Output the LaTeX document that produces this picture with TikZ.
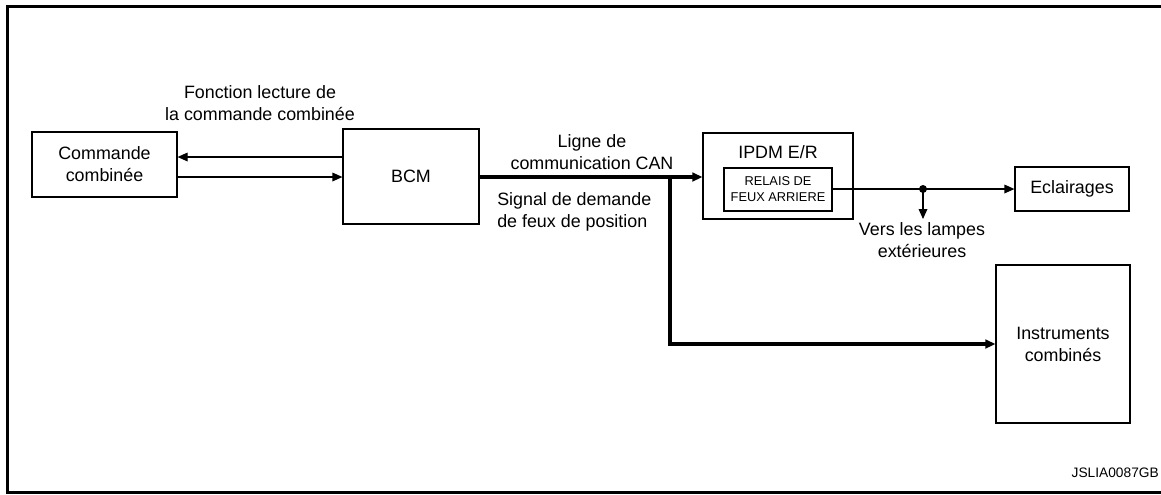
\documentclass[tikz,border=0pt]{standalone}
\usepackage{fontspec}
\setmainfont{Liberation Sans}
\usetikzlibrary{arrows.meta}
\begin{document}
\begin{tikzpicture}[x=0.75pt,y=-0.75pt,
  box/.style={draw,line width=0.9pt,inner sep=0pt,align=center,
    font=\fontsize{13.4pt}{16.5pt}\selectfont},
  lbl/.style={inner sep=0pt,align=center,font=\fontsize{13.4pt}{16.5pt}\selectfont},
  thin/.style={line width=0.9pt},
  arr/.style={-{Triangle[length=7.5pt,width=6.5pt]}},
  canline/.style={line width=2.4pt,line join=miter},
  frame/.style={line width=2.25pt}]
\useasboundingbox (0,0) rectangle (1161,494);
\draw[frame] (1161,6) -- (7,6) -- (7,492.5) -- (1161,492.5);

\node[box,minimum width=108.75pt,minimum height=48.75pt] (cmd) at (104.5,164.5) {Commande\\combinée};
\node[box,minimum width=102pt,minimum height=71.25pt] (bcm) at (411,176.5) {BCM};
\node[box,minimum width=112.5pt,minimum height=64.5pt] (ipdm) at (778,176) {};
\node[lbl] (ipdmt) at (778,152) {IPDM E/R};
\node[box,minimum width=81pt,minimum height=32.25pt,
  font=\fontsize{9.6pt}{12pt}\selectfont] (relais) at (778,189.5) {RELAIS DE\\FEUX ARRIERE};
\node[box,minimum width=85.5pt,minimum height=33pt] (ecl) at (1072,189) {Eclairages};
\node[box,minimum width=100.5pt,minimum height=118.5pt] (instr) at (1063,344) {Instruments\\combinés};

\node[lbl] (lfonc) at (260,103) {Fonction lecture de\\la commande combinée};
\node[lbl] (lcan) at (592,152) {Ligne de\\communication CAN};
\node[lbl,anchor=west,align=left] (lsig) at (497,211.5) {Signal de demande\\de feux de position};
\node[lbl] (lvers) at (922,240) {Vers les lampes\\extérieures};
\node[inner sep=0pt,anchor=east,font=\fontsize{10.3pt}{12pt}\selectfont] (code) at (1159,473) {JSLIA0087GB};

\draw[thin,arr] (bcm.west |- 0,157) -- (cmd.east |- 0,157);
\draw[thin,arr] (cmd.east |- 0,177) -- (bcm.west |- 0,177);

\coordinate (br) at (670,177);
\draw[canline,arr] (bcm.east |- br) -- (ipdm.west |- br);
\draw[canline,arr] (br) |- (instr.west);

\coordinate (dot) at (923,189);
\draw[thin,arr] (relais.east |- dot) -- (ecl.west |- dot);
\fill (dot) circle (3pt);
\coordinate (vend) at (923,219);
\draw[thin,arr] (dot) -- (vend);
\end{tikzpicture}
\end{document}
